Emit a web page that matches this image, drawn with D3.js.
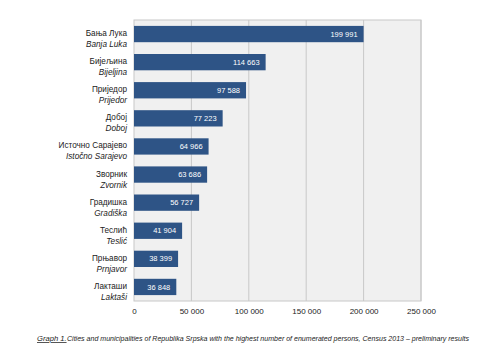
<!DOCTYPE html>
<html>
<head>
<meta charset="utf-8">
<script src="https://d3js.org/d3.v7.min.js"></script>
<style>
  body { margin: 0; background: #fff; }
  text { font-family: "Liberation Sans", Arial, sans-serif; }
</style>
</head>
<body>
<div id="chart"></div>
<script>
// cities in Cyrillic and Latin script
const namesCyr = ["Бања Лука", "Бијељина", "Приједор", "Добој", "Источно Сарајево",
                  "Зворник", "Градишка", "Теслић", "Прњавор", "Лакташи"];
const namesLat = ["Banja Luka", "Bijeljina", "Prijedor", "Doboj", "Istočno Sarajevo",
                  "Zvornik", "Gradiška", "Teslić", "Prnjavor", "Laktaši"];
const persons = [199991, 114663, 97588, 77223, 64966, 63686, 56727, 41904, 38399, 36848];
const xTicks = [0, 50000, 100000, 150000, 200000, 250000];

const width = 500, height = 350;
const margin = {top: 20, right: 79, bottom: 49, left: 134};

const svg = d3.select("#chart").append("svg")
    .attr("width", width)
    .attr("height", height);

const x = d3.scaleLinear()
    .domain([0, 250000])
    .range([margin.left, width - margin.right]);

const y = d3.scaleBand()
    .domain(d3.range(persons.length))
    .range([margin.top, height - margin.bottom])
    .paddingInner(0.42)
    .paddingOuter(0.21);

const fmt = v => d3.format(",")(v).replace(/,/g, " ");

// plot background
svg.append("rect")
    .attr("x", x(0))
    .attr("y", margin.top)
    .attr("width", x(250000) - x(0))
    .attr("height", height - margin.bottom - margin.top)
    .attr("fill", "#f0f0f0");

// grid lines
svg.append("g")
    .selectAll("line")
    .data(xTicks.slice(1))
    .join("line")
    .attr("x1", d => x(d)).attr("x2", d => x(d))
    .attr("y1", margin.top).attr("y2", height - margin.bottom)
    .attr("stroke", "#c8c8c8")
    .attr("stroke-width", 1);

// frame
svg.append("rect")
    .attr("x", x(0))
    .attr("y", margin.top)
    .attr("width", x(250000) - x(0))
    .attr("height", height - margin.bottom - margin.top)
    .attr("fill", "none")
    .attr("stroke", "#c8c8c8");

// bars
svg.append("g")
    .selectAll("rect")
    .data(persons)
    .join("rect")
    .attr("x", x(0))
    .attr("y", (d, i) => y(i))
    .attr("width", d => x(d) - x(0))
    .attr("height", y.bandwidth())
    .attr("fill", "#2e5486");

// values inside the bars
svg.append("g")
    .selectAll("text")
    .data(persons)
    .join("text")
    .attr("x", d => x(d) - 6)
    .attr("y", (d, i) => y(i) + y.bandwidth() / 2)
    .attr("dy", "0.35em")
    .attr("text-anchor", "end")
    .attr("fill", "#fff")
    .style("font-size", "7.5px")
    .text(fmt);

// category labels, two lines
const labels = svg.append("g")
    .selectAll("text")
    .data(namesCyr)
    .join("text")
    .attr("text-anchor", "end")
    .style("font-size", "8.2px")
    .attr("fill", "#222");

labels.append("tspan")
    .attr("x", x(0) - 7)
    .attr("y", (d, i) => y(i) + y.bandwidth() / 2 + 2)
    .text(d => d);

labels.append("tspan")
    .attr("x", x(0) - 7)
    .attr("y", (d, i) => y(i) + y.bandwidth() / 2 + 13)
    .style("font-style", "italic")
    .text((d, i) => namesLat[i]);

// x axis
const xAxis = svg.append("g")
    .attr("transform", `translate(0, ${height - margin.bottom})`)
    .call(d3.axisBottom(x).tickValues(xTicks).tickSize(0).tickPadding(7).tickFormat(fmt));
xAxis.select(".domain").remove();
xAxis.selectAll("text")
    .style("font-size", "8px")
    .attr("fill", "#222");

// caption
svg.append("text")
    .attr("x", 37)
    .attr("y", 341)
    .style("font-size", "7.6px")
    .style("font-style", "italic")
    .style("text-decoration", "underline")
    .attr("fill", "#222")
    .text("Graph 1.");

svg.append("text")
    .attr("x", 67)
    .attr("y", 341)
    .attr("textLength", 402)
    .attr("lengthAdjust", "spacingAndGlyphs")
    .style("font-size", "6.9px")
    .style("font-style", "italic")
    .attr("fill", "#222")
    .text("Cities and municipalities of Republika Srpska with the highest number of enumerated persons, Census 2013 – preliminary results");
</script>
</body>
</html>
